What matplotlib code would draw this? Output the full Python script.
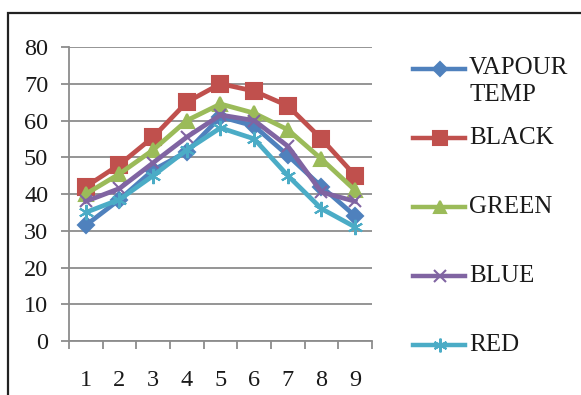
import matplotlib.pyplot as plt
from matplotlib.lines import Line2D
from matplotlib.patches import Rectangle

plt.rcParams['font.family'] = ['Liberation Serif', 'DejaVu Serif']

days = [1, 2, 3, 4, 5, 6, 7, 8, 9]
vapour = [31.5, 38.5, 46.5, 51.5, 61, 58.5, 50.5, 42, 34]
black = [42, 48, 55.5, 65, 70, 68, 64, 55, 45]
green = [40, 45.5, 52, 60, 64.5, 62, 57.5, 49.5, 41]
blue = [38, 41.5, 48.5, 55.5, 61.5, 60, 53, 40.5, 38]
red = [35, 38.5, 45, 52, 58, 55, 45, 36, 31]

labels = ['VAPOUR\nTEMP', 'BLACK', 'GREEN', 'BLUE', 'RED']
colors = ['#4F81BD', '#C0504D', '#9BBB59', '#8064A2', '#4BACC6']
markers = ['D', 's', '^', 'x', (6, 2, 0)]
msizes = [8, 11.5, 10, 9, 11]

W, H = 581, 395
fig = plt.figure(figsize=(W / 100, H / 100), dpi=100)
ax = fig.add_axes([69 / W, 1 - 341 / H, 303 / W, 294 / H])

series = [vapour, black, green, blue, red]
for ys, c, m, ms in zip(series, colors, markers, msizes):
    ax.plot(days, ys, color=c, lw=3.4, marker=m, ms=ms, mew=1.5,
            mec=c, mfc=c, solid_joinstyle='round', clip_on=False)

ax.set_xlim(0.5, 9.5)
ax.set_ylim(0, 80)
ax.set_yticks(range(0, 81, 10))
ax.set_xticks(days)
ax.set_xticks([d + 0.5 for d in [0] + days], minor=True)
ax.yaxis.grid(True, color='#8c8c8c', lw=1.3)
ax.set_axisbelow(True)
for s in ['top', 'right']:
    ax.spines[s].set_visible(False)
for s in ['left', 'bottom']:
    ax.spines[s].set_color('#8c8c8c')
    ax.spines[s].set_linewidth(1.3)
ax.tick_params(axis='y', length=6, width=1.3, color='#8c8c8c', pad=9,
               labelsize=17.5, labelcolor='#1a1a1a')
ax.tick_params(axis='x', which='major', length=0, pad=21,
               labelsize=17.5, labelcolor='#1a1a1a')
ax.tick_params(axis='x', which='minor', length=6, width=1.3, color='#8c8c8c')

# legend on the right, drawn by hand so each entry sits at its own row
rows = [69, 138, 207, 276, 345]
for lab, c, m, ms, y in zip(labels, colors, markers, msizes, rows):
    fy = 1 - y / H
    fig.add_artist(Line2D([413 / W, 465 / W], [fy, fy], color=c, lw=3.2,
                          transform=fig.transFigure))
    fig.add_artist(Line2D([440 / W], [fy], color=c, marker=m, ms=ms * 0.9,
                          mew=1.5, mec=c, mfc=c, transform=fig.transFigure))
    if '\n' in lab:
        fig.text(469 / W, 1 - (y - 12) / H, lab, ha='left', va='top',
                 fontsize=18, color='#1a1a1a', linespacing=1.3)
    else:
        fig.text(469 / W, fy, lab, ha='left', va='center', fontsize=18,
                 color='#1a1a1a')

# outer chart frame
fig.add_artist(Rectangle((8 / W, -0.1), 1.2, 1 - 13 / H + 0.1, fill=False,
                         edgecolor='#222222', lw=1.6, transform=fig.transFigure))

fig.savefig('out.png', dpi=100)
